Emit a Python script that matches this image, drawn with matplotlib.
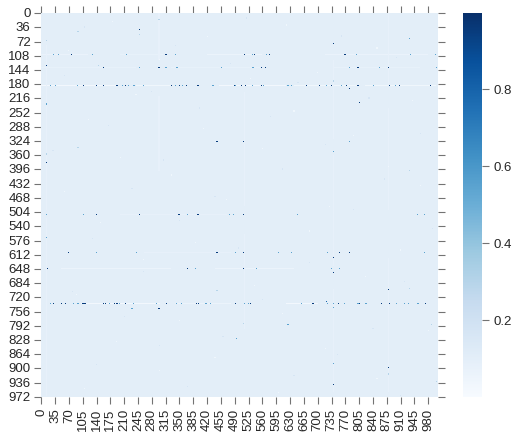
import numpy as np
import matplotlib
matplotlib.use('Agg')
import matplotlib.pyplot as plt
import seaborn as sns

n_rows = 973
n_cols = 1005
base_value = 0.105
dark = 0.95
mid = 0.55

# strong rows: row -> (dark cols, mid cols)
row_104_dark = [76, 316, 514, 540, 577, 769]
row_104_mid = [32, 43, 130, 216, 340, 535, 570, 798, 935, 998]
row_137_dark = [157, 298, 557, 567, 802, 880]
row_137_mid = [248, 316, 344, 456, 536, 781, 857, 1000]
row_183_dark = [108, 139, 157, 192, 214, 330, 350, 368, 397, 490, 507, 518, 557, 671, 705, 735, 773, 802, 881, 908, 985]
row_183_mid = [23, 37, 91, 206, 220, 235, 260, 340, 358, 435, 491, 535, 562, 625, 633, 722, 760, 842, 897]
row_510_dark = [139, 248, 349, 397, 513]
row_510_mid = [13, 108, 370, 476, 487, 648, 952, 971]
row_606_dark = [70, 445, 513, 756, 781]
row_606_mid = [140, 241, 492, 600, 633, 724, 971]
row_646_dark = [15, 370, 513]
row_646_mid = [390, 545, 735, 756]
row_735_dark = [32, 51, 61, 106, 111, 157, 163, 186, 192, 214, 317, 393, 399, 492, 530, 688, 752, 806, 861, 882, 972]
row_735_mid = [23, 82, 93, 173, 198, 233, 292, 342, 355, 417, 429, 515, 524, 659, 724, 739, 768, 802, 822, 899, 920, 929, 954]

# lone cells away from those rows
spot_rows = [41, 53, 17, 46, 69, 132, 132, 77, 64, 191, 226, 172, 325, 325, 378, 357, 340, 351, 326, 399,
             618, 657, 700, 697, 749, 749, 825, 703, 897, 914, 940, 887, 933, 788, 787, 788, 230, 568, 730, 745]
spot_cols = [248, 248, 298, 93, 13, 13, 146, 739, 933, 781, 805, 739, 445, 513, 13, 13, 93, 739, 781, 933,
             739, 739, 880, 933, 230, 298, 494, 445, 880, 880, 739, 739, 1000, 625, 513, 989, 13, 13, 722, 739]
spot_vals = [0.95, 0.3, 0.3, 0.3, 0.3, 0.95, 0.3, 0.95, 0.55, 0.95, 0.95, 0.3, 0.95, 0.95, 0.95, 0.3, 0.3, 0.55, 0.55, 0.3,
             0.95, 0.95, 0.95, 0.3, 0.55, 0.95, 0.55, 0.3, 0.95, 0.3, 0.95, 0.55, 0.3, 0.55, 0.3, 0.3, 0.55, 0.55, 0.8, 0.55]

# pale dashes along rows: row, first col, last col, value
pale_rows = [104, 104, 104, 104, 137, 137, 137, 183, 183, 183, 183, 183, 510, 606, 646, 646, 735, 735, 735]
pale_start = [0, 200, 420, 720, 0, 330, 740, 0, 240, 450, 640, 820, 200, 260, 50, 440, 100, 340, 620]
pale_end = [120, 310, 560, 980, 240, 560, 960, 190, 330, 620, 800, 1000, 470, 480, 330, 640, 300, 480, 700]
pale_vals = [0.07, 0.08, 0.06, 0.07, 0.08, 0.08, 0.08, 0.03, 0.04, 0.03, 0.04, 0.04, 0.085, 0.085, 0.06, 0.06, 0.03, 0.06, 0.03]

# pale dashes along columns: col, first row, last row
pale_cols = [13, 13, 298, 298, 514, 514, 739, 739, 739, 880, 880, 880]
pale_first = [80, 520, 0, 210, 200, 560, 120, 360, 700, 0, 240, 620]
pale_last = [500, 970, 120, 400, 490, 800, 320, 640, 960, 180, 500, 960]

# white specks
speck_rows = [22, 30, 60, 88, 95, 118, 150, 165, 205, 222, 248, 270, 292, 310, 342, 365, 388, 410, 436, 452, 472, 490,
              530, 552, 580, 600, 625, 668, 690, 712, 760, 778, 805, 832, 850, 872, 905, 925, 950, 962]
speck_cols = [180, 620, 420, 850, 70, 300, 700, 530, 240, 940, 640, 120, 410, 790, 560, 200, 880, 330, 960, 60, 470, 730,
              150, 680, 390, 910, 260, 820, 540, 90, 610, 350, 980, 190, 720, 440, 300, 850, 110, 600]

# faint blue flecks
fleck_rows = [12, 35, 58, 82, 112, 128, 158, 175, 198, 215, 240, 262, 285, 305, 332, 348, 372, 395, 420, 445, 465, 498,
              525, 545, 570, 595, 632, 655, 680, 705, 725, 768, 798, 820, 842, 865, 890, 918, 945, 968]
fleck_cols = [520, 110, 760, 340, 900, 480, 60, 650, 280, 830, 400, 580, 170, 960, 720, 30, 310, 610, 870, 230, 440, 790,
              350, 990, 130, 500, 680, 260, 920, 80, 560, 210, 840, 460, 300, 750, 140, 640, 370, 910]


def stamp(m, r, c, v, w=1):
    # cells are smaller than a pixel, so give each one some width or it can vanish
    m[max(r - w, 0):r + w + 1, max(c - w, 0):c + w + 1] = v


data = np.full((n_rows, n_cols), base_value)

for r, a, b, v in zip(pale_rows, pale_start, pale_end, pale_vals):
    data[r - 1:r + 2, a:b] = v
for c, a, b in zip(pale_cols, pale_first, pale_last):
    data[a:b, c - 1:c + 2] = 0.085
for r, c in zip(speck_rows, speck_cols):
    stamp(data, r, c, 0.04)
for r, c in zip(fleck_rows, fleck_cols):
    stamp(data, r, c, 0.17)

strong_rows = [(104, row_104_dark, row_104_mid), (137, row_137_dark, row_137_mid),
               (183, row_183_dark, row_183_mid), (510, row_510_dark, row_510_mid),
               (606, row_606_dark, row_606_mid), (646, row_646_dark, row_646_mid),
               (735, row_735_dark, row_735_mid)]
for r, dark_cols, mid_cols in strong_rows:
    for c in mid_cols:
        stamp(data, r, c, mid)
    for c in dark_cols:
        stamp(data, r, c, dark)
for r, c, v in zip(spot_rows, spot_cols, spot_vals):
    stamp(data, r, c, v)

sns.set_style('ticks')
plt.rcParams['font.family'] = ['Liberation Sans', 'DejaVu Sans']
plt.rcParams['text.color'] = '.15'
plt.rcParams['xtick.labelcolor'] = '.15'
plt.rcParams['ytick.labelcolor'] = '.15'

W, H = 519, 439
fig = plt.figure(figsize=(W / 100, H / 100), dpi=100)
ax = fig.add_axes([41 / W, 1 - 398 / H, 397 / W, 384 / H])
cax = fig.add_axes([463 / W, 1 - 398 / H, 19 / W, 384 / H])

sns.heatmap(data, ax=ax, cbar_ax=cax, cmap='Blues', vmin=0, vmax=0.997,
            xticklabels=35, yticklabels=36)

for s in ax.spines.values():
    s.set_visible(False)
ax.tick_params(top=True, right=True, length=5, width=0.8, color='.45', labelsize=9.5, pad=2.5)
plt.setp(ax.get_xticklabels(), rotation=90)
plt.setp(ax.get_yticklabels(), rotation=0)
cax.tick_params(right=True, length=5, width=0.8, color='.45', labelsize=9.5, pad=3)
cax.set_yticks([0.2, 0.4, 0.6, 0.8])

fig.savefig('out.png', dpi=100)
